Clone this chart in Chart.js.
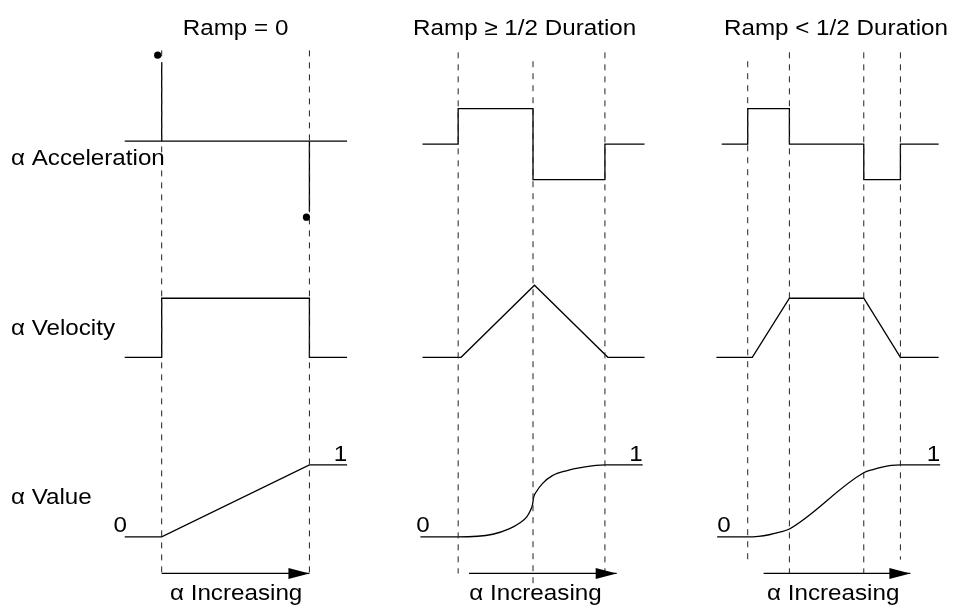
<!DOCTYPE html>
<html><head><meta charset="utf-8">
<script src="https://cdn.jsdelivr.net/npm/chart.js@4.4.0/dist/chart.umd.min.js"></script>
<style>html,body{margin:0;padding:0;background:#fff;} canvas{display:block;}</style>
</head><body>
<canvas id="c" width="954" height="610"></canvas>
<script>
// ---------- text ----------
const panelTitles = ['Ramp = 0', 'Ramp \u2265 1/2 Duration', 'Ramp < 1/2 Duration'];
const rowLabels = ['\u03b1 Acceleration', '\u03b1 Velocity', '\u03b1 Value'];
const directionLabel = '\u03b1 Increasing';
const valueEndLabels = ['0', '1'];

// ---------- data (t = fraction of duration, values are signal levels) ----------
// Panel 1: Ramp = 0
const p1AccT = [-0.25, 0, 1, 1.255];
const p1AccV = [0, 0, 0, 0];
const p1ImpulseT = [0, 1];
const p1ImpulseV = [2.22, -1.97];
const p1DotT = [-0.027, 0.98];
const p1DotV = [2.42, -2.14];
const p1VelT = [-0.25, 0, 0, 1, 1, 1.255];
const p1VelV = [0, 0, 0.82, 0.82, 0, 0];
const p1ValT = [-0.25, 0, 1, 1.255];
const p1ValV = [0, 0, 1, 1];
const p1Marks = [0, 1];
const p1Arrow = [0, 1];

// Panel 2: Ramp >= 1/2 Duration
const p2AccT = [-0.243, 0, 0, 0.51, 0.51, 1, 1, 1.27];
const p2AccV = [0, 0, 1, 1, -1, -1, 0, 0];
const p2VelT = [-0.243, 0.02, 0.52, 1.02, 1.27];
const p2VelV = [0, 0, 1, 0, 0];
const p2ValT = [-0.257, 0, 0.236, 0.351, 0.419, 0.466, 0.493, 0.507, 0.514, 0.534, 0.574, 0.642, 0.736, 0.845, 1, 1.257];
const p2ValV = [0, 0, 0.037, 0.114, 0.192, 0.274, 0.37, 0.452, 0.548, 0.63, 0.74, 0.85, 0.918, 0.965, 1, 1];
const p2Marks = [0, 0.51, 1];
const p2Arrow = [0.074, 1.08];

// Panel 3: Ramp < 1/2 Duration
const p3AccT = [-0.17, 0, 0, 0.273, 0.273, 0.76, 0.76, 1, 1, 1.25];
const p3AccV = [0, 0, 1, 1, 0, 0, -1, -1, 0, 0];
const p3VelT = [-0.205, 0.03, 0.273, 0.76, 1, 1.25];
const p3VelV = [0, 0, 0.82, 0.82, 0, 0];
const p3ValT = [-0.2, 0, 0.07, 0.14, 0.21, 0.273, 0.76, 0.82, 0.88, 0.94, 1, 1.26];
const p3ValV = [0, 0, 0.008, 0.03, 0.065, 0.11, 0.89, 0.935, 0.97, 0.992, 1, 1];
const p3Marks = [0, 0.273, 0.76, 1];
const p3Arrow = [0.104, 1.065];

// ---------- layout (pixels) ----------
const W = 954, H = 610;
const panelPx = [[159, 308], [458, 606], [750, 904]];   // where t=0 and t=1 land
const rowZeroPx = { yAcc1: 139, yAcc: 142, yVel: 358, yVal: 540 };
const rowUnitPx = { yAcc1: 36, yAcc: 36, yVel: 73, yVal: 73 };
const markExtent = [
  [[47, 577], [47, 577]],
  [[49, 577], [58, 594], [49, 577]],
  [[58, 563], [49, 577], [49, 577], [49, 563]]
];
const arrowY = 577;
const TEXT_STRETCH = 1.1;

function pts(T, V) { return T.map((t, i) => ({ x: t, y: V[i] })); }
const LINE = '#000';
function lineDs(xId, yId, T, V, extra) {
  return Object.assign({
    data: pts(T, V), xAxisID: xId, yAxisID: yId, showLine: true,
    borderColor: LINE, borderWidth: 1.3, pointRadius: 0, fill: false, tension: 0
  }, extra || {});
}

const datasets = [];
const marks = [p1Marks, p2Marks, p3Marks];
marks.forEach((mk, p) => {
  mk.forEach((t, j) => {
    const e = markExtent[p][j];
    datasets.push(lineDs('x' + (p + 1), 'y', [t, t], [e[0], e[1]], { borderColor: '#222', borderWidth: 1, borderDash: [6, 6] }));
  });
});
// panel 1
datasets.push(lineDs('x1', 'yAcc1', p1AccT, p1AccV));
p1ImpulseT.forEach((t, i) => datasets.push(lineDs('x1', 'yAcc1', [t, t], [0, p1ImpulseV[i]])));
datasets.push({ data: pts(p1DotT, p1DotV), xAxisID: 'x1', yAxisID: 'yAcc1', showLine: false,
  pointRadius: 3.6, pointBackgroundColor: '#000', pointBorderColor: '#000', pointBorderWidth: 0 });
datasets.push(lineDs('x1', 'yVel', p1VelT, p1VelV));
datasets.push(lineDs('x1', 'yVal', p1ValT, p1ValV));
// panel 2
datasets.push(lineDs('x2', 'yAcc', p2AccT, p2AccV));
datasets.push(lineDs('x2', 'yVel', p2VelT, p2VelV));
datasets.push(lineDs('x2', 'yVal', p2ValT, p2ValV, { cubicInterpolationMode: 'monotone' }));
// panel 3
datasets.push(lineDs('x3', 'yAcc', p3AccT, p3AccV));
datasets.push(lineDs('x3', 'yVel', p3VelT, p3VelV));
datasets.push(lineDs('x3', 'yVal', p3ValT, p3ValV, { cubicInterpolationMode: 'monotone' }));
// arrows (shafts)
const arrows = [p1Arrow, p2Arrow, p3Arrow];
arrows.forEach((a, p) => datasets.push(lineDs('x' + (p + 1), 'y', a, [arrowY, arrowY], { borderWidth: 1.3 })));

// scales
const scales = {
  x: { type: 'linear', display: false, min: 0, max: W },
  y: { type: 'linear', display: false, min: 0, max: H, reverse: true }
};
panelPx.forEach((ab, p) => {
  const k = ab[1] - ab[0];
  scales['x' + (p + 1)] = { type: 'linear', display: false, min: -ab[0] / k, max: (W - ab[0]) / k };
});
Object.keys(rowZeroPx).forEach(id => {
  const k = rowUnitPx[id];
  const mn = -(H - rowZeroPx[id]) / k;
  scales[id] = { type: 'linear', display: false, min: mn, max: mn + H / k };
});

// text placements
const texts = [
  { s: panelTitles[0], xs: 'x1', x: 0.5, y: 31, a: 'center' },
  { s: panelTitles[1], xs: 'x2', x: 0.453, y: 31, a: 'center' },
  { s: panelTitles[2], xs: 'x3', x: 0.578, y: 31, a: 'center' },
  { s: rowLabels[0], xs: 'x', x: 7, y: 163, a: 'left' },
  { s: rowLabels[1], xs: 'x', x: 7, y: 335, a: 'left' },
  { s: rowLabels[2], xs: 'x', x: 7, y: 507, a: 'left' },
  { s: valueEndLabels[0], xs: 'x1', x: -0.28, y: 535, a: 'center' },
  { s: valueEndLabels[1], xs: 'x1', x: 1.255, y: 463, a: 'right' },
  { s: valueEndLabels[0], xs: 'x2', x: -0.24, y: 535, a: 'center' },
  { s: valueEndLabels[1], xs: 'x2', x: 1.257, y: 463, a: 'right' },
  { s: valueEndLabels[0], xs: 'x3', x: -0.156, y: 535, a: 'center' },
  { s: valueEndLabels[1], xs: 'x3', x: 1.26, y: 463, a: 'right' },
  { s: directionLabel, xs: 'x1', x: 0.504, y: 604, a: 'center' },
  { s: directionLabel, xs: 'x2', x: 0.527, y: 604, a: 'center' },
  { s: directionLabel, xs: 'x3', x: 0.56, y: 604, a: 'center' }
];

const annot = {
  id: 'annot',
  afterDatasetsDraw(chart) {
    const ctx = chart.ctx, s = chart.scales;
    ctx.save();
    ctx.fillStyle = '#000';
    ctx.font = '22px "Liberation Sans", Arial, Helvetica, sans-serif';
    ctx.textBaseline = 'alphabetic';
    texts.forEach(t => {
      ctx.save();
      ctx.translate(s[t.xs].getPixelForValue(t.x), s.y.getPixelForValue(t.y));
      ctx.scale(TEXT_STRETCH, 1);
      ctx.textAlign = t.a;
      ctx.fillText(t.s, 0, 0);
      ctx.restore();
    });
    arrows.forEach((a, p) => {
      const tip = s['x' + (p + 1)].getPixelForValue(a[1]);
      const y = s.y.getPixelForValue(arrowY);
      ctx.beginPath();
      ctx.moveTo(tip, y);
      ctx.lineTo(tip - 21, y - 5.5);
      ctx.lineTo(tip - 21, y + 5.5);
      ctx.closePath();
      ctx.fill();
    });
    ctx.restore();
  }
};

new Chart(document.getElementById('c'), {
  type: 'scatter',
  data: { datasets },
  options: {
    responsive: false, animation: false, events: [],
    layout: { padding: 0 },
    plugins: { legend: { display: false }, tooltip: { enabled: false }, title: { display: false } },
    scales
  },
  plugins: [annot]
});
</script>
</body></html>
